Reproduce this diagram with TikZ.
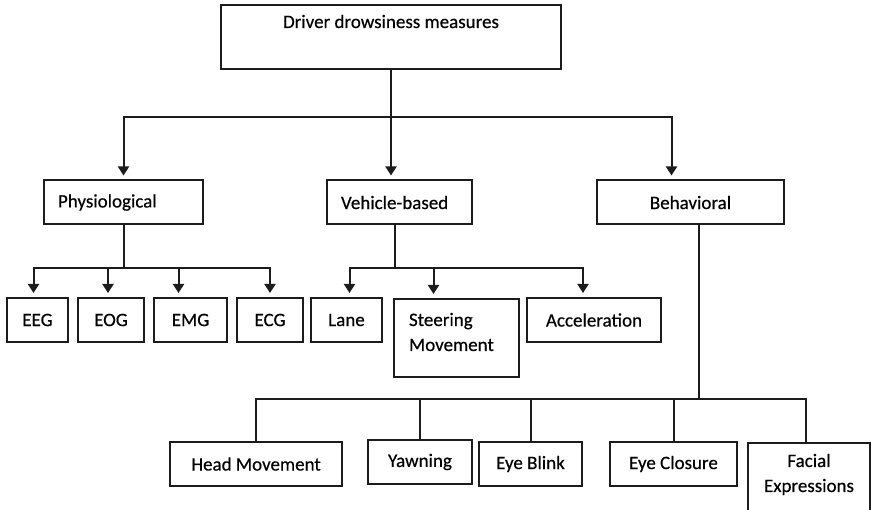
\documentclass[tikz,border=0pt]{standalone}
\usepackage{fontspec}
\setmainfont{Carlito}[FakeBold=0.4]
\usetikzlibrary{arrows.meta,positioning,calc}
\definecolor{dark}{HTML}{1C1C1C}
\tikzset{
  box/.style={draw=dark, line width=2pt, align=center, minimum height=44pt, inner sep=0pt, font=\fontsize{19}{25}\selectfont},
  leftbox/.style={box, align=left, inner xsep=14pt},
  tallbox/.style={box, anchor=north west, text height=21pt},
  arrow/.style={-{Triangle[length=9pt,width=11pt]}, line width=2pt, draw=dark, shorten >=4pt},
  link/.style={line width=2pt, draw=dark}
}

\begin{document}
\begin{tikzpicture}[x=1pt, y=-1pt]
  \useasboundingbox (0,0) rectangle (871,510);
  \clip (0,0) rectangle (871,510);

  % root box, text sits near the top
  \node[box, minimum width=340pt, minimum height=64pt, text height=17pt, text depth=35pt] (drowsy) at (391,37) {Driver drowsiness measures};

  % three measure groups
  \node[leftbox, text width=131pt] (physio) at (123.5,202.5) {Physiological};
  \node[leftbox, text width=117pt] (vehicle) at (399.5,202.5) {Vehicle-based};
  \node[box, minimum width=187pt] (behav) at (690.5,202.5) {Behavioral};

  % root to groups
  \draw[arrow] (drowsy.south) -- ++(0,47) coordinate (bus1) -- (bus1 |- vehicle.north);
  \draw[arrow] (bus1) -| (physio.north);
  \draw[arrow] (bus1) -| ([xshift=-19pt]behav.north);

  % physiological signals
  \node[box, minimum width=61pt] (eeg) at (37.5,320) {EEG};
  \node[box, minimum width=66pt] (eog) at (111,320) {EOG};
  \node[box, minimum width=73pt] (emg) at (190.5,320) {EMG};
  \node[box, minimum width=66pt] (ecg) at (270,320) {ECG};

  \draw[link] (physio.south) -- ++(0,43) coordinate (bus2);
  \draw[arrow] (bus2) -| ([xshift=-4pt]eeg.north);
  \draw[arrow] (bus2) -| ([xshift=-3pt]eog.north);
  \draw[arrow] (bus2) -| ([xshift=-12pt]emg.north);
  \draw[arrow] (bus2) -| (ecg.north);

  % vehicle-based measures
  \node[box, minimum width=71pt] (lane) at (346.5,320) {Lane};
  \node[tallbox, align=left, text width=95pt, inner xsep=15pt, minimum height=78pt, text depth=45pt] (steer) at (393,298) {Steering\\Movement};
  \node[box, minimum width=134pt] (accel) at (594,320) {Acceleration};

  \draw[link] ([xshift=-5pt]vehicle.south) -- ++(0,43) coordinate (bus3);
  \draw[arrow] (bus3) -| ([xshift=3pt]lane.north);
  \draw[arrow] (bus3) -| ([xshift=-23pt]steer.north);
  \draw[arrow] (bus3) -| ([xshift=-11pt]accel.north);

  % behavioral measures
  \node[box, minimum width=172pt] (head) at (256,464) {Head Movement};
  \node[box, minimum width=104pt] (yawn) at (420,462) {Yawning};
  \node[box, minimum width=103pt] (blink) at (530.5,464) {Eye Blink};
  \node[box, minimum width=127pt] (closure) at (673.5,464) {Eye Closure};
  \node[tallbox, text width=122pt, minimum height=74pt, text height=18pt, text depth=44pt] (facial) at (747,442) {Facial\\Expressions};

  \draw[link] ([xshift=8pt]behav.south) -- ++(0,174) coordinate (bus4);
  \draw[link] (bus4) -| (head.north);
  \draw[link] (bus4) -| (yawn.north);
  \draw[link] (bus4) -| (blink.north);
  \draw[link] (bus4) -| (closure.north);
  \draw[link] (bus4) -| ([xshift=-3pt]facial.north);
\end{tikzpicture}
\end{document}
